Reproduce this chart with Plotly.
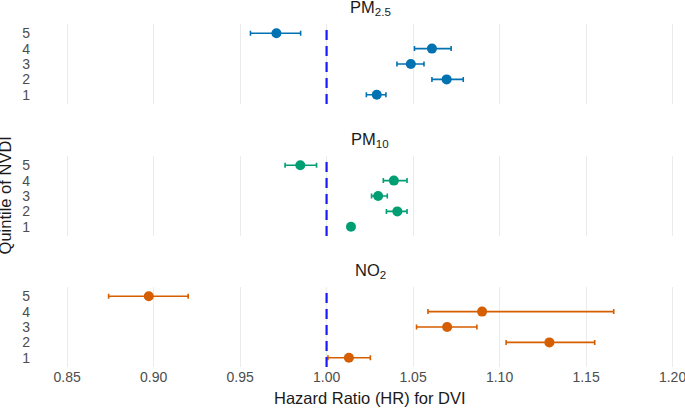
import plotly.graph_objects as go

# data
pollutants = ["PM<sub>2.5</sub>", "PM<sub>10</sub>", "NO<sub>2</sub>"]
quintiles = [1, 2, 3, 4, 5]
colors = ["#0072B2", "#009E73", "#D55E00"]

hr_pm25 = [1.029, 1.0694, 1.0487, 1.0609, 0.971]
lo_pm25 = [1.023, 1.0609, 1.0407, 1.0508, 0.956]
hi_pm25 = [1.0343, 1.079, 1.0563, 1.072, 0.985]

hr_pm10 = [1.0141, 1.0409, 1.0298, 1.0389, 0.9848]
lo_pm10 = [1.0131, 1.0346, 1.026, 1.0328, 0.976]
hi_pm10 = [1.0151, 1.0465, 1.0351, 1.0465, 0.9942]

hr_no2 = [1.0129, 1.1288, 1.0697, 1.0899, 0.8972]
lo_no2 = [1.0008, 1.1038, 1.052, 1.0586, 0.874]
hi_no2 = [1.0253, 1.155, 1.0869, 1.166, 0.920]

x_ticks = [0.85, 0.90, 0.95, 1.00, 1.05, 1.10, 1.15, 1.20]

series = [
    (hr_pm25, lo_pm25, hi_pm25),
    (hr_pm10, lo_pm10, hi_pm10),
    (hr_no2, lo_no2, hi_no2),
]

# vertical domains of the three panels (top to bottom)
domains = [[0.7668, 1.0], [0.3819, 0.6152], [0.0, 0.2332]]

fig = go.Figure()
for i, (hr, lo, hi) in enumerate(series):
    n = i + 1
    xa = "x" if n == 1 else f"x{n}"
    ya = "y" if n == 1 else f"y{n}"
    # reference line at HR = 1
    fig.add_shape(type="line", x0=1, x1=1, y0=0, y1=1,
                  xref=xa, yref=f"{ya} domain",
                  line=dict(color="#1a1aff", width=2.2, dash="10px,6px"))
    fig.add_trace(go.Scatter(
        x=hr, y=quintiles,
        mode="markers",
        marker=dict(color=colors[i], size=10),
        error_x=dict(
            type="data", symmetric=False,
            array=[h - m for h, m in zip(hi, hr)],
            arrayminus=[m - l for m, l in zip(hr, lo)],
            color=colors[i], thickness=1.6, width=2.5,
        ),
        xaxis=xa, yaxis=ya,
        showlegend=False,
    ))
    fig.add_annotation(text=pollutants[i], x=0.5, xref="paper",
                       y=domains[i][1], yref="paper", yanchor="middle",
                       yshift=16, showarrow=False,
                       font=dict(size=16.5, color="#1a1a1a"))

layout = dict(
    template="none",
    width=685, height=408,
    margin=dict(l=55, r=0, t=24, b=41, autoexpand=False),
    plot_bgcolor="white", paper_bgcolor="white",
    font=dict(family="Liberation Sans, Arial, sans-serif", size=14, color="#4d4d4d"),
    showlegend=False,
)
for i in range(3):
    n = i + 1
    xk = "xaxis" if n == 1 else f"xaxis{n}"
    yk = "yaxis" if n == 1 else f"yaxis{n}"
    layout[xk] = dict(
        range=[0.843, 1.2072], domain=[0, 1],
        tickvals=x_ticks, ticktext=[f"{v:.2f}" for v in x_ticks],
        showticklabels=(n == 3), ticklabeloverflow="allow",
        showgrid=True, gridcolor="#ebebeb", gridwidth=1.3,
        zeroline=False, showline=False, ticks="",
        anchor="y" if n == 1 else f"y{n}",
        tickfont=dict(size=14, color="#4d4d4d"),
    )
    layout[yk] = dict(
        range=[0.4, 5.6], domain=domains[i],
        tickvals=quintiles, ticktext=[str(q) for q in quintiles],
        showgrid=False, zeroline=False, showline=False, ticks="",
        ticklabelstandoff=24,
        anchor="x" if n == 1 else f"x{n}",
        tickfont=dict(size=14, color="#4d4d4d"),
    )
fig.update_layout(**layout)

fig.add_annotation(text="Hazard Ratio (HR) for DVI", x=0.5, xref="paper",
                   y=0, yref="paper", yanchor="middle", yshift=-31,
                   showarrow=False, font=dict(size=16.5, color="#1a1a1a"))
fig.add_annotation(text="Quintile of NVDI", textangle=-90,
                   x=-0.0795, xref="paper", xanchor="center",
                   y=0.5, yref="paper", yanchor="middle",
                   showarrow=False, font=dict(size=16.5, color="#1a1a1a"))

# drop the default page margin so the figure sits at the window's corner
fig.write_html("out.html", config={"displayModeBar": False},
               post_script="document.body.style.margin='0px';")
